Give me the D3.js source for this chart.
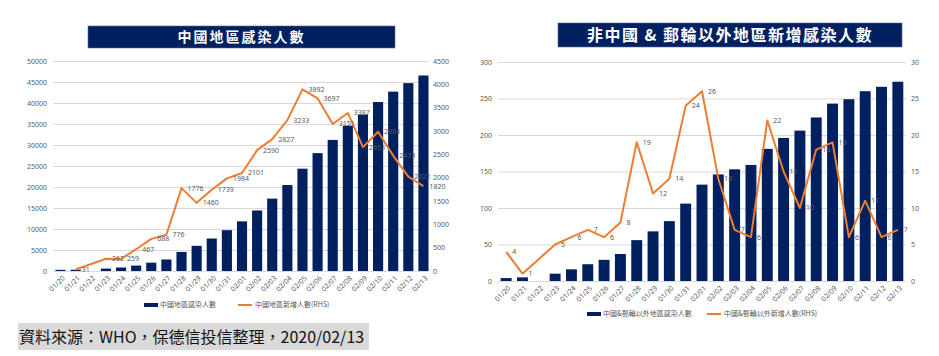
<!DOCTYPE html>
<html><head><meta charset="utf-8">
<script src="https://cdn.jsdelivr.net/npm/d3@7"></script>
<style>
html,body{margin:0;padding:0;background:#fff;}
svg{display:block;}
text{font-family:"Noto Sans","Noto Sans CJK TC",sans-serif;}
</style></head>
<body><svg id="c" width="939" height="356"></svg>
<script>
// ---------- data ----------
const dates = ["01/20","01/21","01/22","01/23","01/24","01/25","01/26","01/27","01/28","01/29","01/30","01/31","02/01","02/02","02/03","02/04","02/05","02/06","02/07","02/08","02/09","02/10","02/11","02/12","02/13"];
const chinaTotal = [278,309,null,571,830,1297,1985,2741,4537,5997,7736,9720,11821,14411,17238,20471,24363,28060,31211,34598,37251,40235,42708,44730,46550];
const chinaNew = [null,31,null,262,259,467,688,776,1776,1460,1739,1984,2101,2590,2827,3233,3892,3697,3151,3387,2653,2984,2473,2022,1820];
const worldTotal = [4,5,null,10,16,23,29,37,56,68,82,106,132,146,153,159,181,196,206,224,243,249,260,266,273];
const worldNew = [4,1,null,5,6,7,6,8,19,12,14,24,26,14,7,6,22,15,10,18,19,6,11,6,7];
const leftTicksL = [0,5000,10000,15000,20000,25000,30000,35000,40000,45000,50000];
const leftTicksR = [0,500,1000,1500,2000,2500,3000,3500,4000,4500];
const rightTicksL = [0,50,100,150,200,250,300];
const rightTicksR = [0,5,10,15,20,25,30];
const titleLeft = "中國地區感染人數";
const titleRight = "非中國 & 郵輪以外地區新增感染人數";
const legLeft = ["中國地區感染人數","中國地區新增人數(RHS)"];
const legRight = ["中國&郵輪以外地區感染人數","中國&郵輪以外新增人數(RHS)"];
const footer = "資料來源：WHO，保德信投信整理，2020/02/13";

const NAVY = "#002060", ORANGE = "#ED7D31", GRID = "#d9d9d9", TXT = "#595959";
const svg = d3.select("#c");

function drawChart(o){
  const g = svg.append("g");
  // title bar
  g.append("rect").attr("x",o.title.x0).attr("y",o.title.y0)
    .attr("width",o.title.x1-o.title.x0).attr("height",o.title.y1-o.title.y0)
    .attr("fill",NAVY).attr("stroke","#5a6a9a").attr("stroke-width",0.6);
  g.append("text").attr("x",(o.title.x0+o.title.x1)/2).attr("y",(o.title.y0+o.title.y1)/2)
    .attr("dy","0.36em").attr("text-anchor","middle").attr("fill","#fff")
    .attr("font-size",o.title.fs).attr("font-weight","bold")
    .attr("letter-spacing",o.title.ls)
    .style("font-family",'"Noto Sans CJK TC",sans-serif').text(o.title.text);

  const x = d3.scaleBand().domain(dates).range([o.x0,o.x1]).paddingInner(0.33).paddingOuter(0.165);
  const yL = d3.scaleLinear().domain([0,o.ticksL[o.ticksL.length-1]]).range([o.yb,o.yt]);
  const yR = d3.scaleLinear().domain([0,o.ticksR[o.ticksR.length-1]]).range([o.yb,o.yt]);

  // left axis + gridlines
  const axL = g.append("g").attr("transform",`translate(${o.x0},0)`)
    .call(d3.axisLeft(yL).tickValues(o.ticksL).tickSizeInner(-(o.gx1-o.x0)).tickSizeOuter(0).tickPadding(6).tickFormat(d3.format("d")));
  axL.select(".domain").remove();
  axL.selectAll("line").attr("stroke",GRID).attr("stroke-width",1);
  axL.selectAll("text").attr("fill",TXT).attr("font-size",o.fs).style("font-family",'"Noto Sans",sans-serif');

  const axR = g.append("g").attr("transform",`translate(${o.gx1},0)`)
    .call(d3.axisRight(yR).tickValues(o.ticksR).tickSize(0).tickPadding(5).tickFormat(d3.format("d")));
  axR.select(".domain").remove();
  axR.selectAll("text").attr("fill",TXT).attr("font-size",o.fs).style("font-family",'"Noto Sans",sans-serif');

  // x labels
  g.append("g").selectAll("text").data(dates).join("text")
    .attr("transform",d=>`translate(${x(d)+x.bandwidth()/2+3},${o.yb+6}) rotate(-45)`)
    .attr("text-anchor","end").attr("dy","0.35em")
    .attr("fill",TXT).attr("font-size",o.fs).text(d=>d);

  // bars
  const bars = dates.map((d,i)=>({d,v:o.bars[i]})).filter(e=>e.v!=null);
  g.append("g").selectAll("rect").data(bars).join("rect")
    .attr("x",e=>x(e.d)).attr("width",x.bandwidth())
    .attr("y",e=>yL(e.v)).attr("height",e=>yL(0)-yL(e.v)).attr("fill",NAVY);

  // line
  const pts = dates.map((d,i)=>({d,v:o.line[i]})).filter(e=>e.v!=null);
  const line = d3.line().x(e=>x(e.d)+x.bandwidth()/2).y(e=>yR(e.v));
  g.append("path").datum(pts).attr("d",line).attr("fill","none")
    .attr("stroke",ORANGE).attr("stroke-width",2).attr("stroke-linejoin","round");
  g.append("g").selectAll("text").data(pts).join("text")
    .attr("x",e=>x(e.d)+x.bandwidth()/2+6).attr("y",e=>yR(e.v)).attr("dy","0.35em")
    .attr("fill",TXT).attr("font-size",o.fs).text(e=>e.v);

  // legend
  const lg = g.append("g");
  lg.append("rect").attr("x",o.leg.x0).attr("y",o.leg.y-2).attr("width",14).attr("height",4).attr("fill",NAVY);
  lg.append("text").attr("x",o.leg.x0+16).attr("y",o.leg.y).attr("dy","0.35em")
    .attr("fill",TXT).attr("font-size",o.fs).style("font-family",'"Noto Sans CJK TC",sans-serif').text(o.leg.t[0]);
  lg.append("line").attr("x1",o.leg.x1).attr("x2",o.leg.x1+14).attr("y1",o.leg.y).attr("y2",o.leg.y)
    .attr("stroke",ORANGE).attr("stroke-width",2);
  lg.append("text").attr("x",o.leg.x1+17).attr("y",o.leg.y).attr("dy","0.35em")
    .attr("fill",TXT).attr("font-size",o.fs).style("font-family",'"Noto Sans CJK TC",sans-serif').text(o.leg.t[1]);
}

drawChart({
  title:{x0:88,x1:395,y0:26,y1:48,fs:14,ls:2,text:titleLeft},
  x0:53,x1:431,gx1:428,yb:271,yt:61,fs:7,
  ticksL:leftTicksL,ticksR:leftTicksR,bars:chinaTotal,line:chinaNew,
  leg:{x0:144,x1:238,y:305,t:legLeft}
});
drawChart({
  title:{x0:558,x1:902,y0:23,y1:47,fs:16,ls:1.5,text:titleRight},
  x0:498,x1:906,gx1:906,yb:281,yt:62,fs:7,
  ticksL:rightTicksL,ticksR:rightTicksR,bars:worldTotal,line:worldNew,
  leg:{x0:587,x1:707,y:314,t:legRight}
});

// footer
svg.append("rect").attr("x",18).attr("y",323).attr("width",351).attr("height",27).attr("fill","#d9d9d9");
svg.append("text").attr("x",19).attr("y",337).attr("dy","0.36em").attr("font-size",16)
  .attr("fill","#111").style("font-family",'"Noto Sans CJK TC",sans-serif').text(footer);
</script></body></html>
